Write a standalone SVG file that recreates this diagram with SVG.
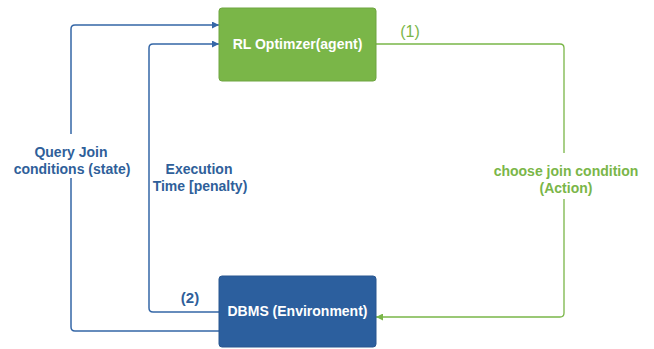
<svg xmlns="http://www.w3.org/2000/svg" width="654" height="349" viewBox="0 0 654 349">
  <defs>
    <marker id="arrBlue" viewBox="0 0 10 10" refX="10" refY="5" markerWidth="7" markerHeight="7" markerUnits="userSpaceOnUse" orient="auto">
      <path d="M0,0 L10,5 L0,10 z" fill="#3567a7"/>
    </marker>
    <marker id="arrGreen" viewBox="0 0 10 10" refX="10" refY="5" markerWidth="7" markerHeight="7" markerUnits="userSpaceOnUse" orient="auto">
      <path d="M0,0 L10,5 L0,10 z" fill="#7ab648"/>
    </marker>
  </defs>
  <style>
    .lblue { fill: none; stroke: #3567a7; stroke-width: 1.5; }
    .lgreen { fill: none; stroke: #7ab648; stroke-width: 1.3; }
    .btxt { font-family: "Liberation Sans", Arial, sans-serif; font-weight: bold; font-size: 14px; fill: #ffffff; text-anchor: middle; }
    .tblue { font-family: "Liberation Sans", Arial, sans-serif; font-weight: bold; font-size: 14px; fill: #2f5f9a; text-anchor: middle; }
    .tgreen { font-family: "Liberation Sans", Arial, sans-serif; font-weight: bold; font-size: 14px; fill: #7ab648; text-anchor: middle; }
  </style>
  <rect width="654" height="349" fill="#ffffff"/>

  <g id="connectors">
    <!-- state: DBMS -> agent (outer loop) -->
    <path class="lblue" d="M219,331 L75,331 Q71,331 71,327 L71,178"/>
    <path class="lblue" d="M71,134 L71,29 Q71,25 75,25 L219,25" marker-end="url(#arrBlue)"/>
    <!-- penalty: DBMS -> agent (inner loop) -->
    <path class="lblue" d="M219,312 L153,312 Q149,312 149,308 L149,48 Q149,44 153,44 L219,44" marker-end="url(#arrBlue)"/>
    <!-- action: agent -> DBMS -->
    <path class="lgreen" d="M376,44 L560,44 Q564,44 564,48 L564,153"/>
    <path class="lgreen" d="M564,199 L564,313 Q564,317 560,317 L376,317" marker-end="url(#arrGreen)"/>
  </g>

  <g id="agent">
    <rect x="219" y="8" width="157" height="73" rx="3" fill="#7ab648" stroke="#6fa540" stroke-width="1"/>
    <text class="btxt" x="297.5" y="49">RL Optimzer(agent)</text>
  </g>

  <g id="dbms">
    <rect x="219" y="276" width="157" height="71" rx="3" fill="#2c5f9e" stroke="#285790" stroke-width="1"/>
    <text class="btxt" x="297.5" y="316">DBMS (Environment)</text>
  </g>

  <g id="labels">
    <text class="tblue" x="71" y="157">Query Join</text>
    <text class="tblue" x="72" y="174">conditions (state)</text>
    <text class="tblue" x="199" y="174">Execution</text>
    <text class="tblue" x="200" y="191">Time [penalty)</text>
    <text class="tblue" x="190" y="303" style="font-size:15px">(2)</text>
    <text class="tgreen" x="566" y="176">choose join condition</text>
    <text class="tgreen" x="566" y="193">(Action)</text>
    <text x="410" y="37" style="font-family:'Liberation Sans',Arial,sans-serif;font-size:16px;fill:#7ab648;text-anchor:middle">(1)</text>
  </g>
</svg>
